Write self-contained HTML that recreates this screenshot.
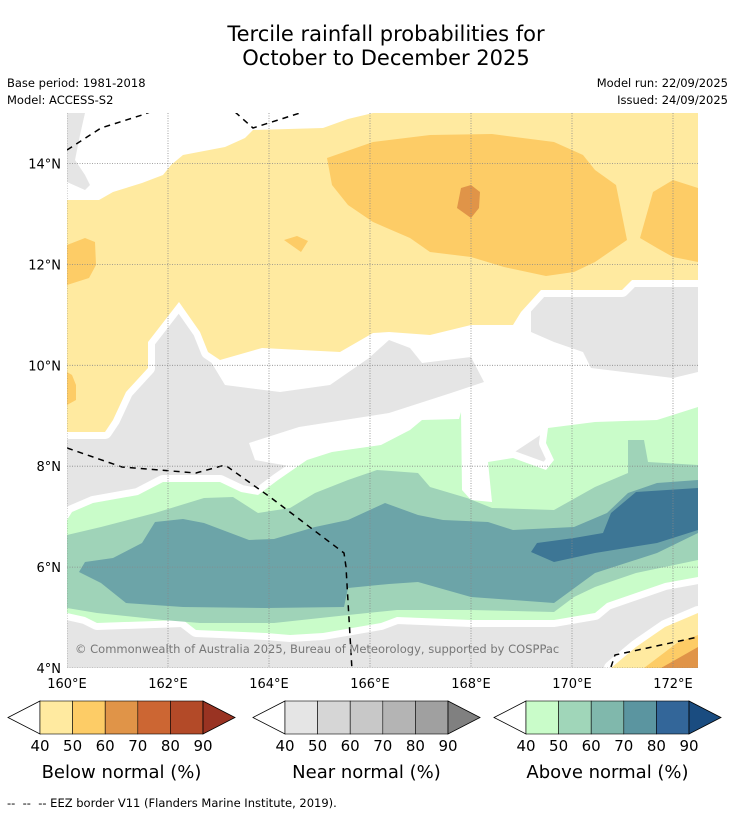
<!DOCTYPE html>
<html><head><meta charset="utf-8">
<style>
body{margin:0;background:#fff;font-family:"DejaVu Sans","Liberation Sans",sans-serif;}
#wrap{position:relative;width:736px;height:816px;overflow:hidden;background:#fff}
.t{position:absolute;white-space:nowrap;color:#000}
svg text{font-family:"DejaVu Sans","Liberation Sans",sans-serif;}
</style></head>
<body>
<div id="wrap">
<div class="t" style="left:0;width:772px;text-align:center;top:22px;font-size:21px;line-height:24px">Tercile rainfall probabilities for<br>October to December 2025</div>
<div class="t" style="left:7px;top:76px;font-size:11.5px">Base period: 1981-2018</div>
<div class="t" style="left:7px;top:93px;font-size:11.5px">Model: ACCESS-S2</div>
<div class="t" style="right:8px;top:76px;font-size:11.5px;text-align:right">Model run: 22/09/2025</div>
<div class="t" style="right:8px;top:93px;font-size:11.5px;text-align:right">Issued: 24/09/2025</div>
<svg id="svg" width="736" height="816" style="position:absolute;left:0;top:0"></svg>
<div class="t" style="left:7px;top:796px;font-size:11.5px">-- &nbsp;-- &nbsp;-- EEZ border V11 (Flanders Marine Institute, 2019).</div>
</div>
<script>
// axis data
const lonTicks=[160,162,164,166,168,170,172];
const latTicks=[4,6,8,10,12,14];
const cbLevels=[40,50,60,70,80,90];
const belowColors=["#ffeaa0","#fdcc66","#e09448","#cc6633","#b34a28","#993322"];
const nearColors=["#e5e5e5","#d6d6d6","#c8c8c8","#b4b4b4","#a0a0a0","#808080"];
const aboveColors=["#c9fcc9","#a0d6b9","#80b8ac","#5b95a0","#336699","#1a4c80"];
const cbTitles=["Below normal (%)","Near normal (%)","Above normal (%)"];
// traced contour outlines (map pixel trace)
const greyTopLeft=[[67,113],[85,113],[80,135],[75,160],[85,175],[90,185],[85,190],[67,182]];
const whiteGap=[[205,352],[373,333],[531,300],[531,332],[554,342],[583,352],[591,368],[673,378],[698,372],[698,420],[620,428],[548,430],[510,455],[495,500],[462,500],[458,420],[400,438],[330,455],[300,468],[255,460],[249,443],[299,427],[389,413],[451,393],[484,382],[471,357],[422,363],[410,348],[389,340],[369,358],[330,385],[280,392],[225,385]];
const yellowBelow=[[67,200],[99,200],[113,192],[142,183],[163,175],[171,165],[183,155],[225,147],[245,138],[253,130],[323,128],[348,119],[373,113],[698,113],[698,280],[632,280],[622,290],[541,290],[521,312],[513,325],[471,325],[430,335],[389,332],[373,333],[340,352],[262,348],[220,360],[208,352],[200,332],[179,302],[148,342],[148,368],[126,392],[113,420],[105,432],[67,432]];
const orangeMain=[[327,158],[373,142],[430,135],[492,134],[554,142],[583,155],[595,170],[616,185],[620,205],[627,240],[595,262],[574,272],[546,276],[504,267],[471,257],[430,252],[410,238],[373,222],[348,205],[332,185]];
const orangeRight=[[640,238],[653,192],[673,180],[698,188],[698,262],[673,257],[657,248]];
const orangeDark=[[461,188],[471,185],[480,192],[479,208],[471,218],[457,208]];
const orangeSmall=[[284,240],[297,236],[308,241],[301,252]];
const orangeLeft=[[67,245],[85,238],[95,242],[96,265],[89,278],[67,285]];
const orangeLeft2=[[67,372],[72,375],[76,385],[76,400],[67,405]];
const green40=[[67,520],[72,512],[93,503],[138,495],[163,482],[220,482],[241,492],[258,495],[278,480],[307,460],[332,452],[381,445],[410,430],[422,420],[459,419],[461,412],[462,490],[471,500],[492,502],[488,462],[513,458],[546,470],[554,460],[546,443],[548,428],[595,422],[657,420],[698,407],[698,577],[665,583],[636,593],[607,603],[595,613],[554,620],[513,620],[471,620],[397,617],[381,623],[323,633],[290,635],[266,633],[196,630],[183,620],[97,623],[85,617],[67,613]];
const green50=[[67,535],[101,527],[155,513],[204,498],[233,497],[258,513],[290,508],[315,493],[348,480],[377,470],[418,473],[430,487],[467,498],[492,508],[554,510],[595,487],[628,473],[628,440],[644,440],[648,462],[698,465],[698,560],[636,573],[595,587],[574,597],[554,612],[471,610],[397,610],[348,615],[274,623],[200,623],[163,620],[97,613],[67,608]];
const green60=[[79,572],[85,562],[113,558],[142,543],[155,522],[183,519],[204,523],[249,540],[274,539],[315,527],[348,520],[385,503],[418,515],[443,520],[488,522],[513,530],[574,527],[607,513],[628,493],[657,483],[698,480],[698,533],[657,553],[595,573],[554,603],[471,597],[418,582],[389,584],[348,588],[344,607],[266,608],[183,607],[126,603],[101,583]];
const green70=[[531,552],[537,543],[574,538],[603,533],[611,513],[636,492],[698,488],[698,530],[657,543],[595,553],[554,562]];
const brYellow=[[611,668],[636,647],[665,627],[698,613],[698,668]];
const brOrange=[[644,668],[677,643],[698,635],[698,668]];
const brDark=[[661,668],[698,647],[698,668]];
const eez1=[[67,150],[101,128],[142,115],[150,112]];
const eez2=[[235,112],[253,128],[300,113]];
const eez3=[[67,448],[122,467],[196,473],[225,465],[270,497],[344,553],[346,567],[352,670]];
const eez4=[[611,667],[615,655],[698,637]];

const NS="http://www.w3.org/2000/svg";
const svg=document.getElementById('svg');
const X=lon=>67+(lon-160)*50.5;
const Y=lat=>668-(lat-4)*50.45;
function mk(tag,attrs,parent){const e=document.createElementNS(NS,tag);for(const k in attrs)e.setAttribute(k,attrs[k]);(parent||svg).appendChild(e);return e;}
const defs=mk('defs',{});
const cp=mk('clipPath',{id:'pc'},defs);mk('rect',{x:67,y:113,width:631,height:555},cp);
const g=mk('g',{'clip-path':'url(#pc)'});


const bg=mk('rect',{x:67,y:113,width:631,height:555,fill:'#fff'},g);


const gr=mk('rect',{x:67,y:280,width:631,height:388,fill:nearColors[0]},g);


function poly(pts,fill,name,halo){
  const p=mk('polygon',{points:pts.map(q=>q.join(',')).join(' '),fill:fill},g);
  if(halo){p.setAttribute('stroke','#fff');p.setAttribute('stroke-width','14');p.setAttribute('paint-order','stroke');p.setAttribute('stroke-linejoin','round');}
  
  
}
poly(greyTopLeft,nearColors[0],'near-normal-top-left',false);
poly(whiteGap,'#fff','neutral-gap',false);
poly(yellowBelow,belowColors[0],'below-normal-40-region',true);
poly(orangeMain,belowColors[1],'below-normal-50-region',false);
poly(orangeRight,belowColors[1],'below-normal-50-east',false);
poly(orangeSmall,belowColors[1],'below-normal-50-small',false);
poly(orangeLeft,belowColors[1],'below-normal-50-west',false);
poly(orangeLeft2,belowColors[1],'below-normal-50-west-2',false);
poly(orangeDark,belowColors[2],'below-normal-60-region',false);
poly(green40,aboveColors[0],'above-normal-40-region',true);
poly(green50,'#9fd3b8','above-normal-50-region',false);
poly(green60,'#6ca4a8','above-normal-60-region',false);
poly(green70,'#3d7695','above-normal-70-region',false);
poly(brYellow,belowColors[0],'below-normal-40-southeast',true);
poly(brOrange,belowColors[1],'below-normal-50-southeast',false);
poly(brDark,belowColors[2],'below-normal-60-southeast',false);
[eez1,eez2,eez3,eez4].forEach((l,i)=>{
  const p=mk('polyline',{points:l.map(q=>q.join(',')).join(' '),fill:'none',stroke:'#000','stroke-width':1.5,'stroke-dasharray':'6,5'},g);
  
  
});
lonTicks.forEach(v=>{
  const l=mk('line',{x1:X(v),x2:X(v),y1:113,y2:668,stroke:'#888','stroke-width':0.8,'stroke-dasharray':'1,1.5'},g);
  
  
  const t=mk('text',{x:X(v),y:688,'text-anchor':'middle','font-size':13,fill:'#000'});
  t.textContent=v+'°E';
  
  
});
latTicks.forEach(v=>{
  const l=mk('line',{x1:67,x2:698,y1:Y(v),y2:Y(v),stroke:'#888','stroke-width':0.8,'stroke-dasharray':'1,1.5'},g);
  
  
  const t=mk('text',{x:61,y:Y(v)+5,'text-anchor':'end','font-size':13,fill:'#000'});
  t.textContent=v+'°N';
  
  
});
const cr=mk('text',{x:75,y:653,'font-size':11.5,fill:'#777'});
cr.textContent='© Commonwealth of Australia 2025, Bureau of Meteorology, supported by COSPPac';


// colorbars
const cbStarts=[40,285,526];
[belowColors,nearColors,aboveColors].forEach((cols,ci)=>{
  const x0=cbStarts[ci],w=32.6,y0=701,h=33;
  const cg=mk('g',{});
  
  
  mk('polygon',{points:`${x0},${y0} ${x0-32},${y0+h/2} ${x0},${y0+h}`,fill:'#fff',stroke:'#000','stroke-width':0.8},cg);
  for(let i=0;i<cbLevels.length-1;i++){
    mk('rect',{x:x0+i*w,y:y0,width:w,height:h,fill:cols[i],stroke:'#000','stroke-width':0.6},cg);
  }
  const xe=x0+5*w;
  mk('polygon',{points:`${xe},${y0} ${xe+32},${y0+h/2} ${xe},${y0+h}`,fill:cols[5],stroke:'#000','stroke-width':0.8},cg);
  cbLevels.forEach((v,i)=>{
    const t=mk('text',{x:x0+i*w,y:751,'text-anchor':'middle','font-size':15,fill:'#000'},cg);
    t.textContent=v;
    
    
  });
  const tt=mk('text',{x:x0+2.5*w,y:778,'text-anchor':'middle','font-size':18,fill:'#000'},cg);
  tt.textContent=cbTitles[ci];
  
  
});
</script>
</body></html>
